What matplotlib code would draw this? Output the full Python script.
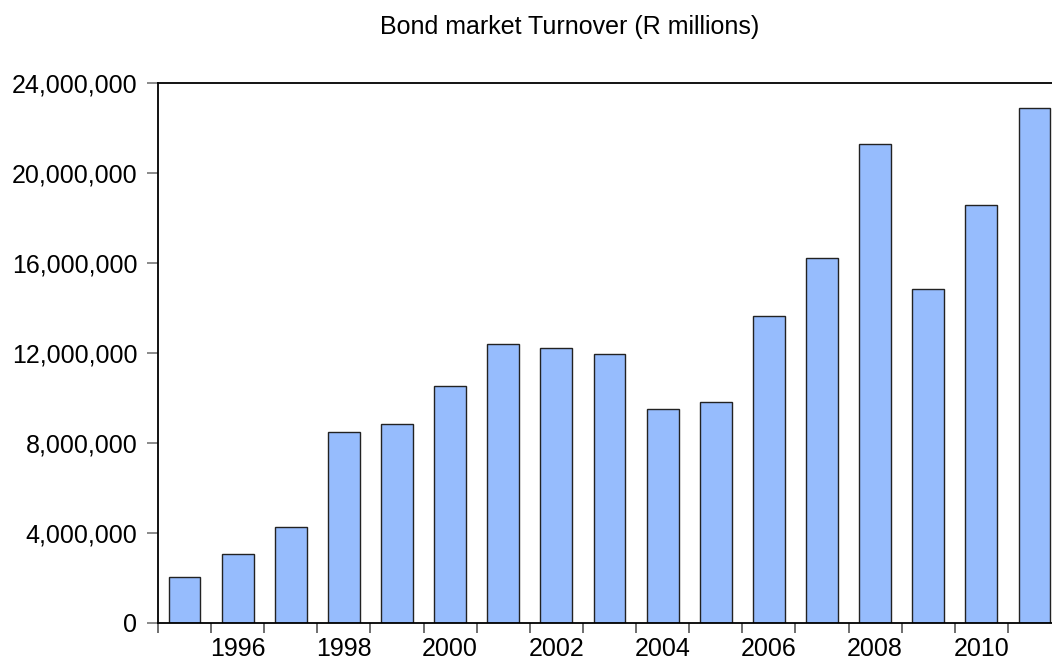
import matplotlib
matplotlib.use("Agg")
import matplotlib.pyplot as plt
from matplotlib.ticker import FuncFormatter

plt.rcParams['font.family'] = ['Liberation Sans', 'DejaVu Sans']

# Datos (R millones)
years = [1995, 1996, 1997, 1998, 1999, 2000, 2001, 2002, 2003,
         2004, 2005, 2006, 2007, 2008, 2009, 2010, 2011]
turnover = [2020000, 3040000, 4270000, 8490000, 8820000, 10510000, 12400000,
            12220000, 11960000, 9510000, 9820000, 13620000, 16220000,
            21280000, 14840000, 18580000, 22890000]
label_years = [1996, 1998, 2000, 2002, 2004, 2006, 2008, 2010]
y_ticks = [0, 4000000, 8000000, 12000000, 16000000, 20000000, 24000000]

fig = plt.figure(figsize=(10.52, 6.63), dpi=100)
ax = fig.add_axes([158 / 1052, 40.3 / 663, 903 / 1052, 540 / 663])

# Barras
ax.bar(years, turnover, width=0.6, color='#96bcfd', edgecolor='#222222', linewidth=1.0)

ax.set_xlim(years[0] - 0.5, years[-1] + 0.5)
ax.set_ylim(0, 24000000)

# Eje y
ax.set_yticks(y_ticks)
ax.yaxis.set_major_formatter(FuncFormatter(lambda v, p: f"{int(v):,}"))
ax.tick_params(axis='y', direction='out', length=8, width=1.2, color='#777777',
               labelsize=18, pad=7)

# Eje x: marcas en los limites de cada año, etiquetas en años pares
ax.set_xticks([y - 0.5 for y in years], minor=True)
ax.set_xticks(label_years)
ax.set_xticklabels([str(y) for y in label_years])
ax.tick_params(axis='x', which='major', length=0, labelsize=18, pad=10)
ax.tick_params(axis='x', which='minor', direction='out', length=7.2, width=1.2,
               color='#555555')

for s in ['left', 'top', 'bottom']:
    ax.spines[s].set_linewidth(1.3)
    ax.spines[s].set_color('black')
ax.spines['right'].set_visible(False)

# Titulo
fig.text(570 / 1052, 1 - 27 / 663, "Bond market Turnover (R millions)",
         ha='center', va='center', fontsize=18)

fig.savefig("out.png", dpi=100)
